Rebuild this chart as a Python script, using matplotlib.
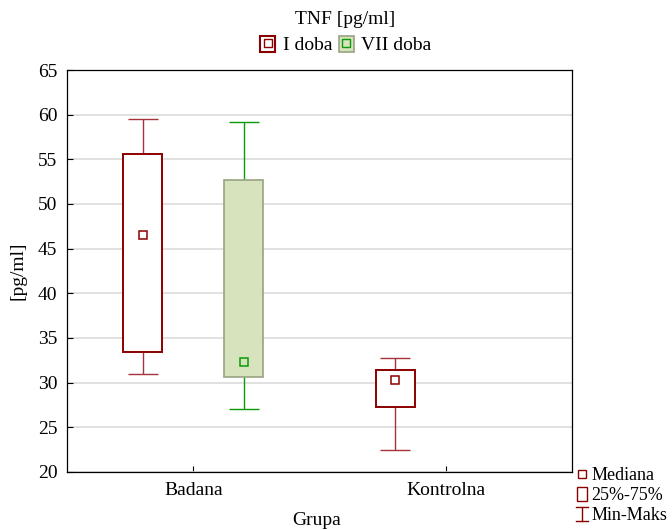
import numpy as np
import matplotlib
matplotlib.use('Agg')
import matplotlib.pyplot as plt
from matplotlib.patches import Rectangle
from matplotlib.lines import Line2D
from matplotlib.legend_handler import HandlerBase

plt.rcParams['font.family'] = ['Liberation Serif', 'DejaVu Serif']
plt.rcParams['font.size'] = 14

groups = ['Badana', 'Kontrolna']
series = ['I doba', 'VII doba']

# min, q1, median, q3, max per group (nan = no data)
i_min = [31.0, 22.5]
i_q1 = [33.4, 27.3]
i_med = [46.5, 30.3]
i_q3 = [55.6, 31.4]
i_max = [59.5, 32.8]

vii_min = [27.0, np.nan]
vii_q1 = [30.6, np.nan]
vii_med = [32.3, np.nan]
vii_q3 = [52.7, np.nan]
vii_max = [59.2, np.nan]

red = '#8b0000'
red_wh = '#a8323c'
green_fill = '#d7e3bd'
green_edge = '#98a383'
green = '#0a9a0a'


class WhiskerHandler(HandlerBase):
    def create_artists(self, legend, orig_handle, xdescent, ydescent,
                       width, height, fontsize, trans):
        cx = width / 2 - xdescent
        y0 = -ydescent
        y1 = height - ydescent
        lines = [Line2D([cx, cx], [y0, y1]),
                 Line2D([cx - 4, cx + 4], [y0, y0]),
                 Line2D([cx - 4, cx + 4], [y1, y1])]
        for l in lines:
            l.set_color(red)
            l.set_linewidth(1)
            l.set_transform(trans)
        return lines


fig = plt.figure(figsize=(6.72, 5.30), dpi=100)
ax = fig.add_axes([67 / 672, 58 / 530, 505 / 672, 402 / 530])

x = np.arange(len(groups))
off = 0.2
w = 0.155


def draw_boxes(pos, mn, q1, med, q3, mx, fc, ec, wc, mc, lw):
    q1 = np.array(q1)
    q3 = np.array(q3)
    ax.vlines(pos, q3, mx, color=wc, lw=1, zorder=2)
    ax.vlines(pos, mn, q1, color=wc, lw=1, zorder=2)
    ax.hlines(mx, pos - 0.06, pos + 0.06, color=wc, lw=1, zorder=2)
    ax.hlines(mn, pos - 0.06, pos + 0.06, color=wc, lw=1, zorder=2)
    ax.bar(pos, q3 - q1, bottom=q1, width=w, facecolor=fc, edgecolor=ec,
           linewidth=lw, zorder=3)
    ax.plot(pos, med, 's', ms=6, mfc='none', mec=mc, mew=1.1, ls='none', zorder=4)


draw_boxes(x - off, i_min, i_q1, i_med, i_q3, i_max, 'white', red, red_wh, red, 1.4)
draw_boxes(x + off, vii_min, vii_q1, vii_med, vii_q3, vii_max,
           green_fill, green_edge, green, green, 1.2)

ax.set_xlim(-0.5, 1.5)
ax.set_ylim(20, 65)
ax.set_yticks(np.arange(20, 66, 5))
ax.set_xticks(x)
ax.set_xticklabels(groups)
ax.tick_params(direction='in', length=4, width=0.8, pad=7)
ax.grid(axis='y', color='#dcdcdc', lw=1.2, zorder=0)
ax.set_axisbelow(True)
for s in ax.spines.values():
    s.set_linewidth(0.9)

ax.set_ylabel('[pg/ml]', labelpad=8)
fig.text(317 / 672, 1 / 530, 'Grupa', ha='center', va='bottom')
fig.text(345 / 672, 1 - 19 / 530, 'TNF [pg/ml]', ha='center', va='center')

# top legend
h_i = (Rectangle((0, 0), 1, 1, fc='white', ec=red, lw=1.5),
       Line2D([], [], marker='s', ms=6, mfc='none', mec=red, mew=1, ls='none'))
h_vii = (Rectangle((0, 0), 1, 1, fc=green_fill, ec=green_edge, lw=1.2),
         Line2D([], [], marker='s', ms=6, mfc='none', mec=green, mew=1, ls='none'))
fig.legend([h_i, h_vii], series, loc='center', bbox_to_anchor=(346 / 672, 1 - 45 / 530),
           ncol=2, frameon=False, handlelength=0.75, handleheight=0.9,
           handletextpad=0.4, columnspacing=0.35, borderpad=0)

# bottom right legend
h_med = Line2D([], [], marker='s', ms=6, mfc='none', mec=red, mew=1, ls='none')
h_box = Rectangle((0, 0), 1, 1, fc='white', ec=red, lw=1)
h_wh = object()
fig.legend([h_med, h_box, h_wh], ['Mediana', '25%-75%', 'Min-Maks'],
           loc='upper left', bbox_to_anchor=(568 / 672, 1 - 458 / 530),
           frameon=False, handlelength=0.55, handleheight=0.8,
           handletextpad=0.25, labelspacing=0.15, borderpad=0,
           prop={'size': 13}, handler_map={h_wh: WhiskerHandler()})

fig.savefig('out.png', dpi=100)
